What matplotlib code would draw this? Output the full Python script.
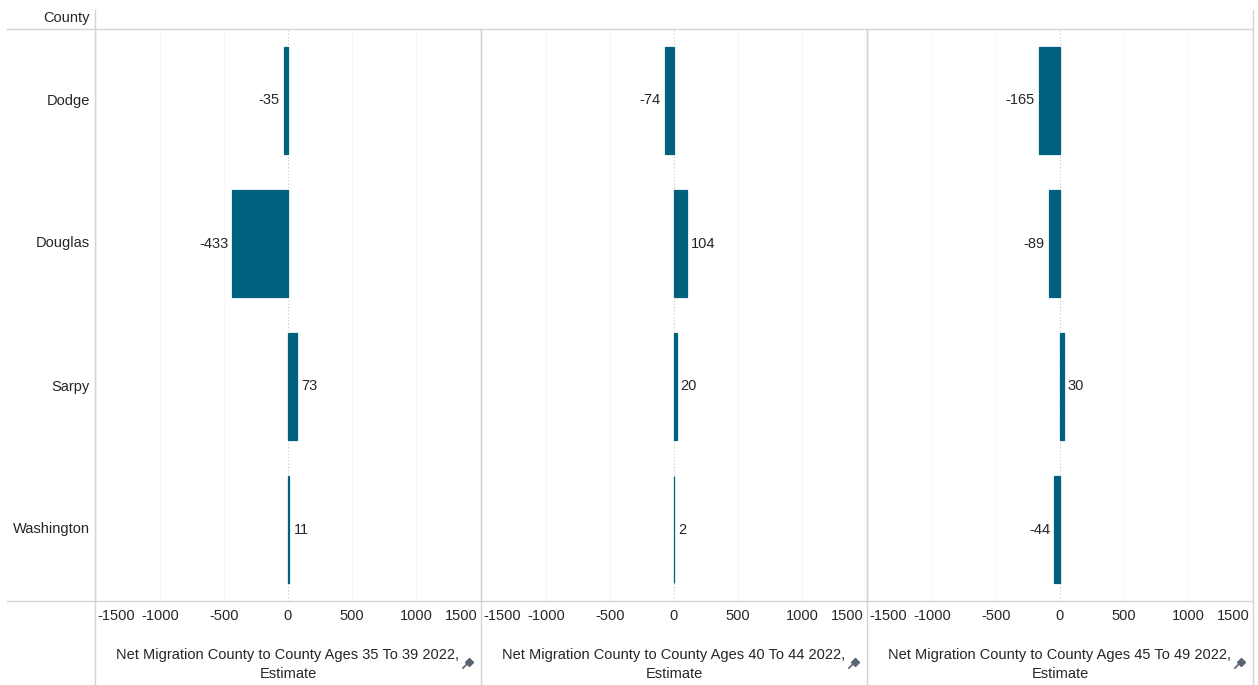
import matplotlib
matplotlib.use("Agg")
import matplotlib.pyplot as plt
from matplotlib.lines import Line2D
from matplotlib import transforms

counties = ["Dodge", "Douglas", "Sarpy", "Washington"]
ages_35_39 = [-35, -433, 73, 11]
ages_40_44 = [-74, 104, 20, 2]
ages_45_49 = [-165, -89, 30, -44]
series = [ages_35_39, ages_40_44, ages_45_49]
titles = ["Net Migration County to County Ages 35 To 39 2022,\nEstimate",
          "Net Migration County to County Ages 40 To 44 2022,\nEstimate",
          "Net Migration County to County Ages 45 To 49 2022,\nEstimate"]
ticks = [-1500, -1000, -500, 0, 500, 1000, 1500]

W, H = 1258, 685
plt.rcParams['font.family'] = ['Liberation Sans', 'DejaVu Sans']
fig = plt.figure(figsize=(W / 100, H / 100), dpi=100)

bar_color = "#00617f"
text_color = "#262626"
line_color = "#d4d4d4"
fs = 10.5

def fx(px):
    return px / W

def fy(py):
    return 1 - py / H

panel_left = [95, 481, 867]
panel_w = 386
top, bottom = 29, 601

for i, (vals, title) in enumerate(zip(series, titles)):
    ax = fig.add_axes([fx(panel_left[i]), fy(bottom), panel_w / W, (bottom - top) / H])
    ax.set_xlim(-1505, 1505)
    ax.set_ylim(len(counties) - 0.5, -0.5)
    for t in ticks:
        if t != 0:
            ax.axvline(t, color="#f7f7f7", lw=0.8, zorder=0)
    ax.axvline(0, color="#c8c8c8", lw=0.8, ls=(0, (1, 2)), zorder=1)
    ypos = list(range(len(counties)))
    ax.barh(ypos, vals, height=0.75, color=bar_color, edgecolor=bar_color,
            linewidth=0.9, zorder=2)
    for y, v in zip(ypos, vals):
        off = 4 if v >= 0 else -4
        ax.annotate(f"{v}", (v, y), xytext=(off, 0), textcoords="offset pixels",
                    ha="left" if v >= 0 else "right", va="center",
                    fontsize=fs, color=text_color)
    for s in ax.spines.values():
        s.set_visible(False)
    ax.set_yticks([])
    ax.set_xticks(ticks)
    ax.set_xticklabels([str(t) for t in ticks], fontsize=fs, color=text_color)
    ax.tick_params(axis="x", length=0, pad=6)
    labs = ax.get_xticklabels()
    labs[0].set_ha("left")
    labs[0].set_transform(labs[0].get_transform() + transforms.ScaledTranslation(2 / 100, 0, fig.dpi_scale_trans))
    labs[-1].set_ha("right")
    labs[-1].set_transform(labs[-1].get_transform() + transforms.ScaledTranslation(-3 / 100, 0, fig.dpi_scale_trans))
    ax.set_xlabel(title, fontsize=fs, color=text_color, labelpad=18, linespacing=1.45)
    if i == 0:
        for y, c in zip(ypos, counties):
            ax.annotate(c, (0, y), xycoords=("axes fraction", "data"),
                        xytext=(-5, 0), textcoords="offset pixels",
                        ha="right", va="center", fontsize=fs, color=text_color)
    # pin icon
    cx = panel_left[i] + 373
    fig.add_artist(Line2D([fx(cx - 5), fx(cx)], [fy(668), fy(663)],
                          color="#5a6470", lw=1.2))
    fig.add_artist(Line2D([fx(cx + 1)], [fy(662)], marker="D", ms=4.5,
                          color="#5a6470", lw=0))

fig.text(fx(90), fy(18), "County", ha="right", va="center", fontsize=fs, color=text_color)

# frame lines
fig.add_artist(Line2D([fx(7), fx(1253)], [fy(29), fy(29)], color=line_color, lw=1))
fig.add_artist(Line2D([fx(7), fx(1253)], [fy(601), fy(601)], color=line_color, lw=1))
fig.add_artist(Line2D([fx(95), fx(95)], [fy(10), fy(685)], color=line_color, lw=1))
fig.add_artist(Line2D([fx(1253), fx(1253)], [fy(10), fy(685)], color=line_color, lw=1))
for xp in (481, 867):
    fig.add_artist(Line2D([fx(xp), fx(xp)], [fy(29), fy(685)], color=line_color, lw=1))

fig.savefig("out.png", dpi=100)
